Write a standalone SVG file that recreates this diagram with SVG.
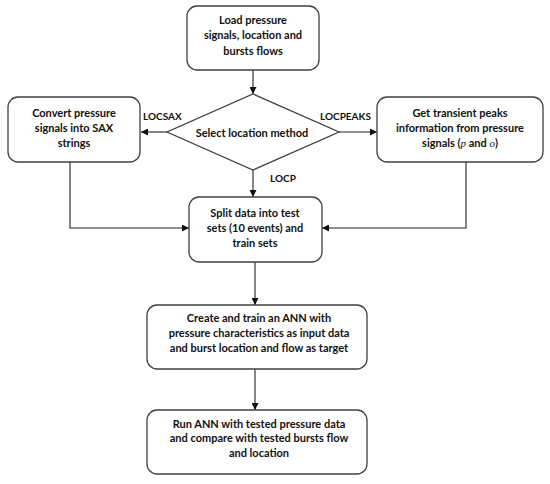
<svg xmlns="http://www.w3.org/2000/svg" width="550" height="484" viewBox="0 0 550 484">
<style>
.box{fill:#fff;stroke:#404040;stroke-width:1.3}
.t{font-family:Lato,"Liberation Sans",sans-serif;font-weight:bold;font-size:11px;fill:#111;text-anchor:middle}
.lbl{font-family:Lato,"Liberation Sans",sans-serif;font-weight:bold;font-size:10px;fill:#111}
.c{fill:none;stroke:#222;stroke-width:1.1}
.m{font-family:"Liberation Serif",serif;font-style:italic;font-weight:normal}
</style>
<defs>
<marker id="ah" viewBox="0 0 10 10" refX="10" refY="5" markerWidth="7" markerHeight="7" markerUnits="userSpaceOnUse" orient="auto">
<path d="M0,0 L10,5 L0,10 z" fill="#111"/>
</marker>
</defs>
<rect width="550" height="484" fill="#fff"/>
<g id="connectors">
<line class="c" x1="253" y1="70" x2="253" y2="94" marker-end="url(#ah)"/>
<line class="c" x1="167" y1="132" x2="141" y2="132" marker-end="url(#ah)"/>
<line class="c" x1="339" y1="132" x2="377" y2="132" marker-end="url(#ah)"/>
<line class="c" x1="253" y1="170" x2="253" y2="197" marker-end="url(#ah)"/>
<polyline class="c" points="70,162 70,228 189,228" marker-end="url(#ah)"/>
<polyline class="c" points="466,162 466,228 322,228" marker-end="url(#ah)"/>
<line class="c" x1="255" y1="262" x2="255" y2="305" marker-end="url(#ah)"/>
<line class="c" x1="255" y1="369" x2="255" y2="410" marker-end="url(#ah)"/>
<text class="lbl" x="143" y="120">LOCSAX</text>
<text class="lbl" x="320" y="120">LOCPEAKS</text>
<text class="lbl" x="270" y="182">LOCP</text>
</g>
<g id="load">
<rect class="box" x="187" y="6" width="132" height="64" rx="10"/>
<text class="t" x="253" y="24">Load pressure</text>
<text class="t" x="253" y="39">signals, location and</text>
<text class="t" x="253" y="55">bursts flows</text>
</g>
<g id="select">
<polygon class="box" points="253,94 339,132 253,170 167,132"/>
<text class="t" x="252" y="137">Select location method</text>
</g>
<g id="sax">
<rect class="box" x="8" y="97" width="132" height="65" rx="10"/>
<text class="t" x="74" y="117">Convert pressure</text>
<text class="t" x="74" y="132">signals into SAX</text>
<text class="t" x="74" y="147">strings</text>
</g>
<g id="peaks">
<rect class="box" x="377" y="97" width="166" height="65" rx="10"/>
<text class="t" x="460" y="117">Get transient peaks</text>
<text class="t" x="460" y="132">information from pressure</text>
<text class="t" x="460" y="147">signals (<tspan class="m">p</tspan> and <tspan class="m">o</tspan>)</text>
</g>
<g id="split">
<rect class="box" x="189" y="197" width="133" height="65" rx="10"/>
<text class="t" x="255" y="217">Split data into test</text>
<text class="t" x="255" y="232">sets (10 events) and</text>
<text class="t" x="255" y="247">train sets</text>
</g>
<g id="ann">
<rect class="box" x="147" y="305" width="220" height="64" rx="10"/>
<text class="t" x="259" y="322">Create and train an ANN with</text>
<text class="t" x="259" y="337">pressure characteristics as input data</text>
<text class="t" x="259" y="352">and burst location and flow as target</text>
</g>
<g id="run">
<rect class="box" x="147" y="410" width="220" height="64" rx="10"/>
<text class="t" x="259" y="428">Run ANN with tested pressure data</text>
<text class="t" x="259" y="442">and compare with tested bursts flow</text>
<text class="t" x="259" y="457">and location</text>
</g>
</svg>
